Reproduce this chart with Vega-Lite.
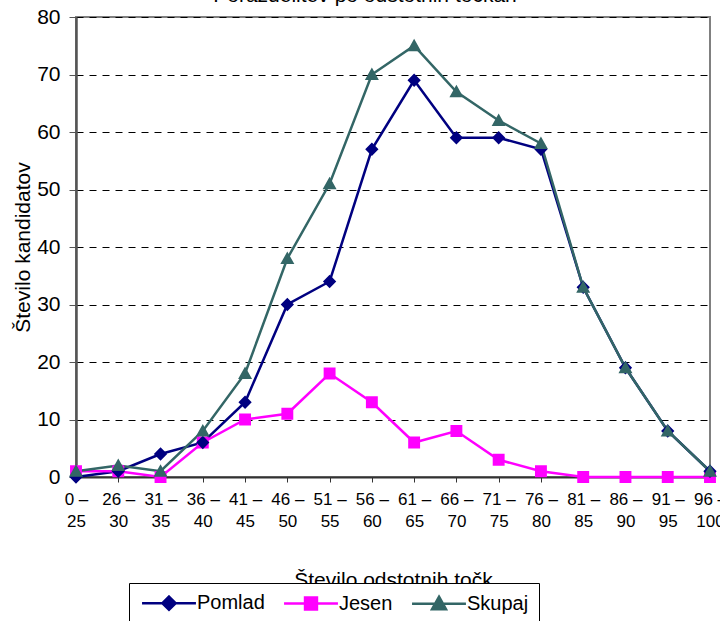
{
  "$schema": "https://vega.github.io/schema/vega-lite/v6.json",
  "autosize": "none",
  "width": 634,
  "height": 460,
  "padding": {"left": 76, "top": 17, "right": 10, "bottom": 144},
  "background": "white",
  "title": {
    "text": "Porazdelitev po odstotnih točkah",
    "font": "Liberation Sans",
    "fontSize": 21,
    "fontWeight": "normal",
    "color": "black",
    "anchor": "middle",
    "dx": -28,
    "offset": 0
  },
  "config": {
    "font": "Liberation Sans",
    "view": {"stroke": "#808080", "strokeWidth": 2}
  },
  "data": {
    "values": [
      {"cat": "0 – 25", "series": "Pomlad", "value": 0},
      {"cat": "26 – 30", "series": "Pomlad", "value": 1},
      {"cat": "31 – 35", "series": "Pomlad", "value": 4},
      {"cat": "36 – 40", "series": "Pomlad", "value": 6},
      {"cat": "41 – 45", "series": "Pomlad", "value": 13},
      {"cat": "46 – 50", "series": "Pomlad", "value": 30},
      {"cat": "51 – 55", "series": "Pomlad", "value": 34},
      {"cat": "56 – 60", "series": "Pomlad", "value": 57},
      {"cat": "61 – 65", "series": "Pomlad", "value": 69},
      {"cat": "66 – 70", "series": "Pomlad", "value": 59},
      {"cat": "71 – 75", "series": "Pomlad", "value": 59},
      {"cat": "76 – 80", "series": "Pomlad", "value": 57},
      {"cat": "81 – 85", "series": "Pomlad", "value": 33},
      {"cat": "86 – 90", "series": "Pomlad", "value": 19},
      {"cat": "91 – 95", "series": "Pomlad", "value": 8},
      {"cat": "96 – 100", "series": "Pomlad", "value": 1},
      {"cat": "0 – 25", "series": "Jesen", "value": 1},
      {"cat": "26 – 30", "series": "Jesen", "value": 1},
      {"cat": "31 – 35", "series": "Jesen", "value": 0},
      {"cat": "36 – 40", "series": "Jesen", "value": 6},
      {"cat": "41 – 45", "series": "Jesen", "value": 10},
      {"cat": "46 – 50", "series": "Jesen", "value": 11},
      {"cat": "51 – 55", "series": "Jesen", "value": 18},
      {"cat": "56 – 60", "series": "Jesen", "value": 13},
      {"cat": "61 – 65", "series": "Jesen", "value": 6},
      {"cat": "66 – 70", "series": "Jesen", "value": 8},
      {"cat": "71 – 75", "series": "Jesen", "value": 3},
      {"cat": "76 – 80", "series": "Jesen", "value": 1},
      {"cat": "81 – 85", "series": "Jesen", "value": 0},
      {"cat": "86 – 90", "series": "Jesen", "value": 0},
      {"cat": "91 – 95", "series": "Jesen", "value": 0},
      {"cat": "96 – 100", "series": "Jesen", "value": 0},
      {"cat": "0 – 25", "series": "Skupaj", "value": 1},
      {"cat": "26 – 30", "series": "Skupaj", "value": 2},
      {"cat": "31 – 35", "series": "Skupaj", "value": 1},
      {"cat": "36 – 40", "series": "Skupaj", "value": 8},
      {"cat": "41 – 45", "series": "Skupaj", "value": 18},
      {"cat": "46 – 50", "series": "Skupaj", "value": 38},
      {"cat": "51 – 55", "series": "Skupaj", "value": 51},
      {"cat": "56 – 60", "series": "Skupaj", "value": 70},
      {"cat": "61 – 65", "series": "Skupaj", "value": 75},
      {"cat": "66 – 70", "series": "Skupaj", "value": 67},
      {"cat": "71 – 75", "series": "Skupaj", "value": 62},
      {"cat": "76 – 80", "series": "Skupaj", "value": 58},
      {"cat": "81 – 85", "series": "Skupaj", "value": 33},
      {"cat": "86 – 90", "series": "Skupaj", "value": 19},
      {"cat": "91 – 95", "series": "Skupaj", "value": 8},
      {"cat": "96 – 100", "series": "Skupaj", "value": 1}
    ]
  },
  "encoding": {
    "x": {
      "field": "cat",
      "type": "ordinal",
      "sort": null,
      "scale": {"type": "point", "padding": 0},
      "axis": {
        "title": "Število odstotnih točk",
        "titleFont": "Liberation Sans",
        "titleFontSize": 21,
        "titleFontWeight": "normal",
        "titleColor": "black",
        "titlePadding": 40,
        "labelAngle": 0,
        "labelFontSize": 17,
        "labelColor": "black",
        "labelPadding": 9,
        "labelLineHeight": 22,
        "labelExpr": "[slice(datum.label, 0, indexof(datum.label, '–') + 1), slice(datum.label, indexof(datum.label, '–') + 2)]",
        "domainColor": "#333333",
        "domainWidth": 2,
        "tickColor": "#333333",
        "tickSize": 5,
        "grid": false
      }
    },
    "y": {
      "field": "value",
      "type": "quantitative",
      "scale": {"domain": [0, 80], "nice": false},
      "axis": {
        "title": "Število kandidatov",
        "titleFont": "Liberation Sans",
        "titleFontSize": 21,
        "titleFontWeight": "normal",
        "titleColor": "black",
        "titlePadding": 3,
        "values": [0, 10, 20, 30, 40, 50, 60, 70, 80],
        "labelFontSize": 21,
        "labelColor": "black",
        "labelPadding": 9,
        "domainColor": "#555555",
        "domainWidth": 2.5,
        "tickColor": "#555555",
        "tickSize": 7,
        "grid": true,
        "gridColor": "black",
        "gridDash": [7, 6],
        "gridWidth": 1
      }
    },
    "color": {
      "field": "series",
      "type": "nominal",
      "sort": ["Pomlad", "Jesen", "Skupaj"],
      "scale": {"domain": ["Pomlad", "Jesen", "Skupaj"], "range": ["#000080", "#FF00FF", "#336666"]},
      "legend": {
        "title": null,
        "orient": "none",
        "direction": "horizontal",
        "legendX": 53,
        "legendY": 566,
        "strokeColor": "black",
        "fillColor": "white",
        "padding": 10,
        "labelFontSize": 20,
        "labelColor": "black",
        "symbolSize": 196,
        "symbolStrokeWidth": 2.5,
        "symbolOffset": 20,
        "labelOffset": 18,
        "columnPadding": 14
      }
    },
    "order": {"field": "series"}
  },
  "layer": [
    {
      "mark": {"type": "line", "strokeWidth": 2.5},
      "encoding": {"detail": {"field": "series"}}
    },
    {
      "mark": {"type": "point", "filled": false, "opacity": 1, "size": 196},
      "encoding": {
        "shape": {
          "field": "series",
          "type": "nominal",
          "scale": {"domain": ["Pomlad", "Jesen", "Skupaj"], "range": ["M-3.85,0L3.85,0M0,-0.95L0.95,0L0,0.95L-0.95,0Z", "M-3.85,0L3.85,0M-0.85,-0.85L0.85,-0.85L0.85,0.85L-0.85,0.85Z", "M-3.85,0L3.85,0M0,-1L1,0.8L-1,0.8Z"]},
          "legend": null
        },
        "fill": {
          "field": "series",
          "type": "nominal",
          "scale": {"domain": ["Pomlad", "Jesen", "Skupaj"], "range": ["#000080", "#FF00FF", "#336666"]},
          "legend": null
        },
        "strokeWidth": {"value": 0}
      }
    }
  ]
}
